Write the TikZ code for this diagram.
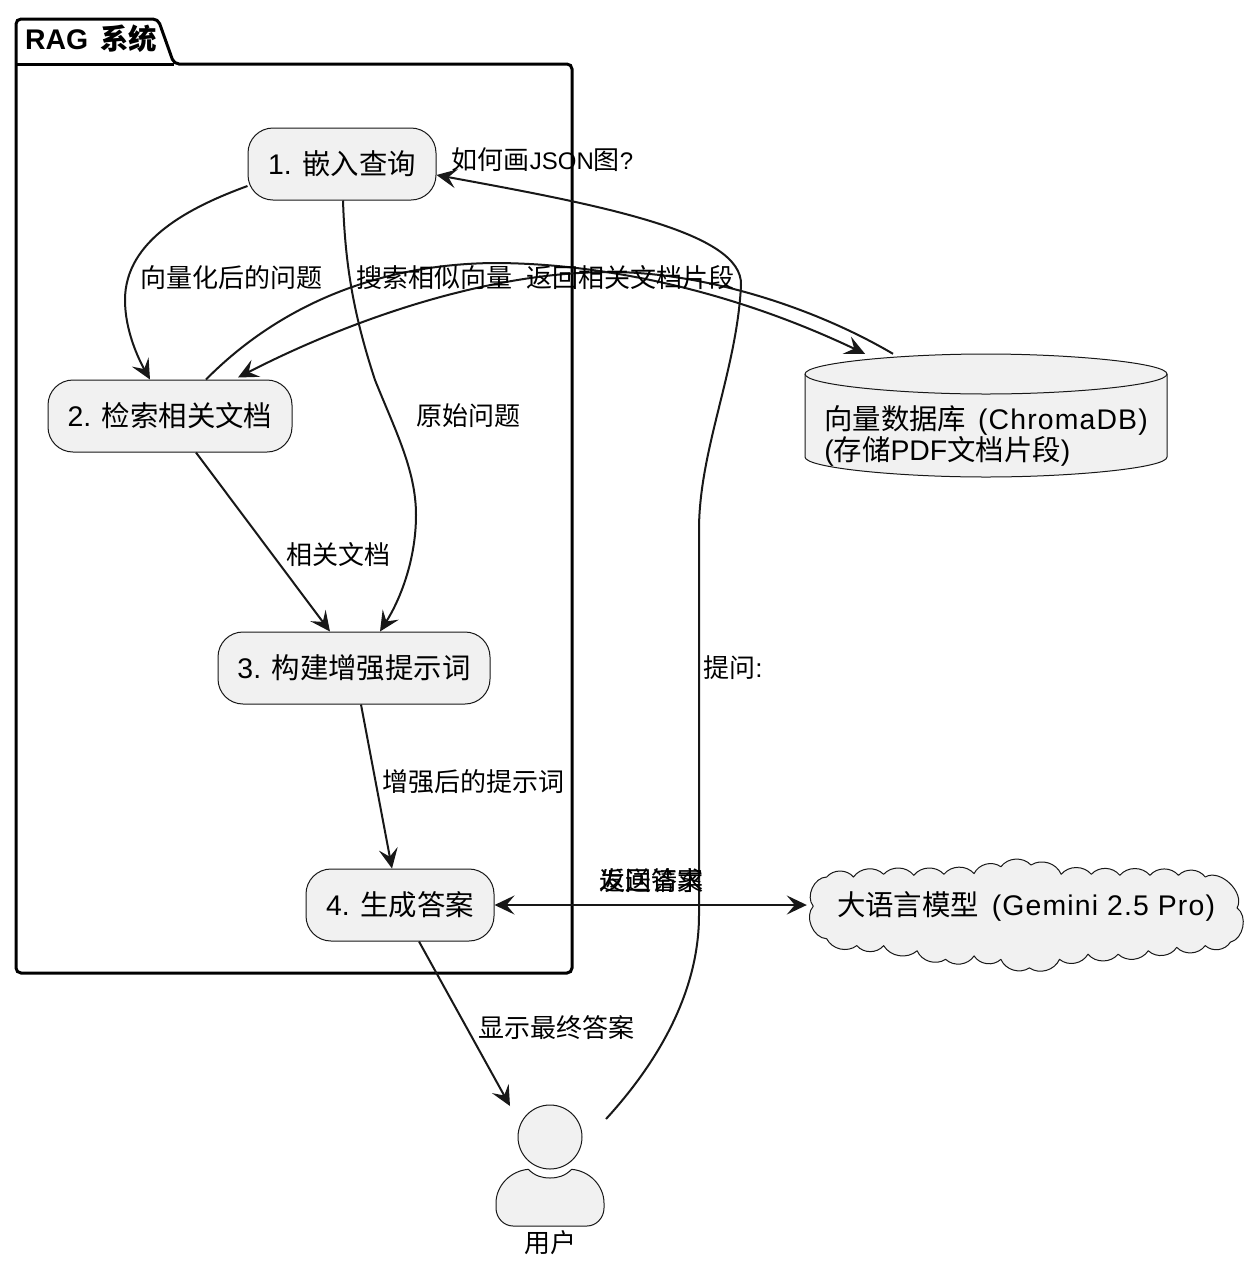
\documentclass[tikz,border=0pt]{standalone}
\usepackage{fontspec}
\setmainfont{Liberation Sans}
\newfontfamily\cjk{Noto Sans CJK SC}
\newfontfamily\wide[LetterSpace=4]{Liberation Sans}
\newcommand{\zh}[1]{{\cjk #1}}
\usetikzlibrary{arrows.meta}
\definecolor{nodefill}{HTML}{F1F1F1}
\definecolor{ink}{HTML}{181818}
\tikzset{
  x=1pt,y=-1pt,
  box/.style={draw=ink,fill=nodefill,line width=1pt,rounded corners=25pt,inner sep=0pt,minimum height=72pt,font=\fontsize{28.4}{32}\selectfont,text height=23pt,text depth=3pt},
  shapeline/.style={draw=ink,fill=nodefill,line width=1pt},
  lab/.style={inner sep=0pt,font=\fontsize{26}{30}\selectfont,text=black,text height=22pt,text depth=3pt},
  big/.style={inner sep=0pt,font=\fontsize{28.4}{31}\selectfont,text=black},
  flow/.style={draw=ink,line width=2pt,-{Stealth[length=20pt,width=19pt,inset=8pt]}},
  both/.style={draw=ink,line width=2pt,{Stealth[length=20pt,width=19pt,inset=8pt]}-{Stealth[length=20pt,width=19pt,inset=8pt]}},
}
\begin{document}
\begin{tikzpicture}
\useasboundingbox (0,0) rectangle (1258,1270);
\fill[white] (0,0) rectangle (1258,1270);
% package
\draw[black,line width=3pt,rounded corners=5pt] (16,64) -- (16,19) -- (158,19) -- (174,64) -- (572,64) -- (572,973) -- (16,973) -- cycle;
\draw[black,line width=3pt] (16,64) -- (174,64);
\node[inner sep=0pt,font=\bfseries\fontsize{28.4}{32}\selectfont] (pk) at (91,39) {RAG\hspace{4pt} {\cjk\bfseries 系统}};
% activity nodes
\node[box,minimum width=188pt] (n1) at (342,164) {1. \zh{嵌入查询}};
\node[box,minimum width=244pt] (n2) at (170,416) {2. \zh{检索相关文档}};
\node[box,minimum width=272pt] (n3) at (354,668) {3. \zh{构建增强提示词}};
\node[box,minimum width=188pt] (n4) at (400,905) {4. \zh{生成答案}};
% database
\path[shapeline] (805,374) -- (805,457) .. controls (805,468) and (900,477) .. (986,477) .. controls (1072,477) and (1167,468) .. (1167,457) -- (1167,374) .. controls (1167,363) and (1072,354) .. (986,354) .. controls (900,354) and (805,363) .. (805,374) -- cycle;
\draw[ink,line width=1pt] (805,374) .. controls (805,385) and (900,394) .. (986,394) .. controls (1072,394) and (1167,385) .. (1167,374);
\node[minimum width=362pt,minimum height=123pt,inner sep=0pt] (db) at (986,415.5) {};
\node[big,align=left] (dbt) at (986,436) {\zh{向量数据库}\hspace{4pt} {\wide (ChromaDB)}\\(\zh{存储}PDF\zh{文档片段})};
% cloud
\begin{scope}[shift={(791.5,841)},x=0.335pt,y=-0.343pt]
\path[shapeline,line join=round] (65,190) to[bend left=65] (105,105) to[bend left=50] (185,105) to[bend left=50] (275,97) to[bend left=50] (365,100) to[bend left=50] (455,97) to[bend left=50] (545,95) to[bend left=50] (625,75) to[bend left=50] (715,70) to[bend left=50] (805,97) to[bend left=50] (895,97) to[bend left=50] (980,100) to[bend left=50] (1070,100) to[bend left=50] (1155,100) to[bend left=50] (1235,105) to[bend left=75] (1330,195) to[bend left=65] (1310,295) to[bend left=50] (1235,305) to[bend left=50] (1150,310) to[bend left=50] (1065,320) to[bend left=50] (975,330) to[bend left=50] (885,330) to[bend left=50] (800,345) to[bend left=50] (710,370) to[bend left=50] (625,345) to[bend left=50] (545,335) to[bend left=50] (460,345) to[bend left=50] (375,320) to[bend left=50] (275,305) to[bend left=50] (195,305) to[bend left=50] (105,285) to[bend left=65] (65,190) -- cycle;
\end{scope}
\node[big,minimum width=434pt,minimum height=60pt] (llm) at (1026,906) {\zh{大语言模型}\hspace{5pt} {\wide (Gemini 2.5 Pro)}};
% user
\node[shapeline,circle,minimum size=64pt,inner sep=0pt] (user) at (550,1137) {};
\path[shapeline] (528.3,1169.3) .. controls (535,1176) and (542,1178) .. (550,1178) .. controls (558,1178) and (565,1176) .. (571.7,1169.3) .. controls (590,1171) and (604,1186) .. (604,1203) -- (604,1208) .. controls (604,1218) and (596,1226) .. (587,1226) -- (513,1226) .. controls (504,1226) and (496,1218) .. (496,1208) -- (496,1203) .. controls (496,1186) and (510,1171) .. (528.3,1169.3) -- cycle;
\node[lab] (ul) at (550,1243) {\zh{用户}};
% connectors
\draw[flow] ([yshift=-22pt]n1.west) .. controls (190,207) and (125,240) .. (125,300) .. controls (125,330) and (138,358) .. ([xshift=-20pt]n2.north);
\draw[flow] ([xshift=1pt]n1.south) .. controls (345,260) and (352,310) .. (375,380) .. controls (395,430) and (416,470) .. (416,515) .. controls (416,560) and (400,600) .. ([xshift=26pt]n3.north);
\draw[flow] ([xshift=36pt]n2.north) .. controls (250,335) and (340,265) .. (493,263) .. controls (590,263) and (720,285) .. ([xshift=-121pt]db.north);
\draw[flow] ([xshift=-93pt]db.north) .. controls (810,305) and (700,272) .. (610,272) .. controls (480,272) and (340,325) .. ([xshift=68pt,yshift=2pt]n2.north);
\draw[flow] ([xshift=26pt]n2.south) -- ([xshift=-24pt]n3.north);
\draw[flow] ([xshift=7pt]n3.south) -- ([xshift=-8pt]n4.north);
\draw[flow] ([xshift=19pt]n4.south) -- ([xshift=-40pt,yshift=31pt]user.center);
\draw[both] (n4.east) -- ([xshift=-2pt,yshift=1pt]llm.west);
\draw[flow] ([xshift=56pt,yshift=18pt]user.center) .. controls (660,1060) and (699,990) .. (699,915) -- (699,530) .. controls (699,450) and (737,370) .. (741,285) .. controls (743,232) and (600,205) .. ([yshift=-11pt]n1.east);
% labels
\node[lab] (q) at (542.5,160) {\zh{如何画}{\fontsize{24}{30}\selectfont JSON}\zh{图}{\fontsize{24}{30}\selectfont ?}};
\node[lab] (la) at (231.5,278) {\zh{向量化后的问题}};
\node[lab] (lb) at (434,278) {\zh{搜索相似向量}};
\node[lab] (lc) at (630.5,278) {\zh{返回相关文档片段}};
\node[lab] (ld) at (468,416) {\zh{原始问题}};
\node[lab] (le) at (338,555) {\zh{相关文档}};
\node[lab] (lf) at (473.5,782) {\zh{增强后的提示词}};
\node[lab] (lg) at (651,881) {\zh{返回答案}};
\node[lab] (lh) at (651,881) {\zh{发送请求}};
\node[lab] (li) at (556.5,1028) {\zh{显示最终答案}};
\node[lab] (lj) at (733,668) {\zh{提问}:};
\end{tikzpicture}
\end{document}
